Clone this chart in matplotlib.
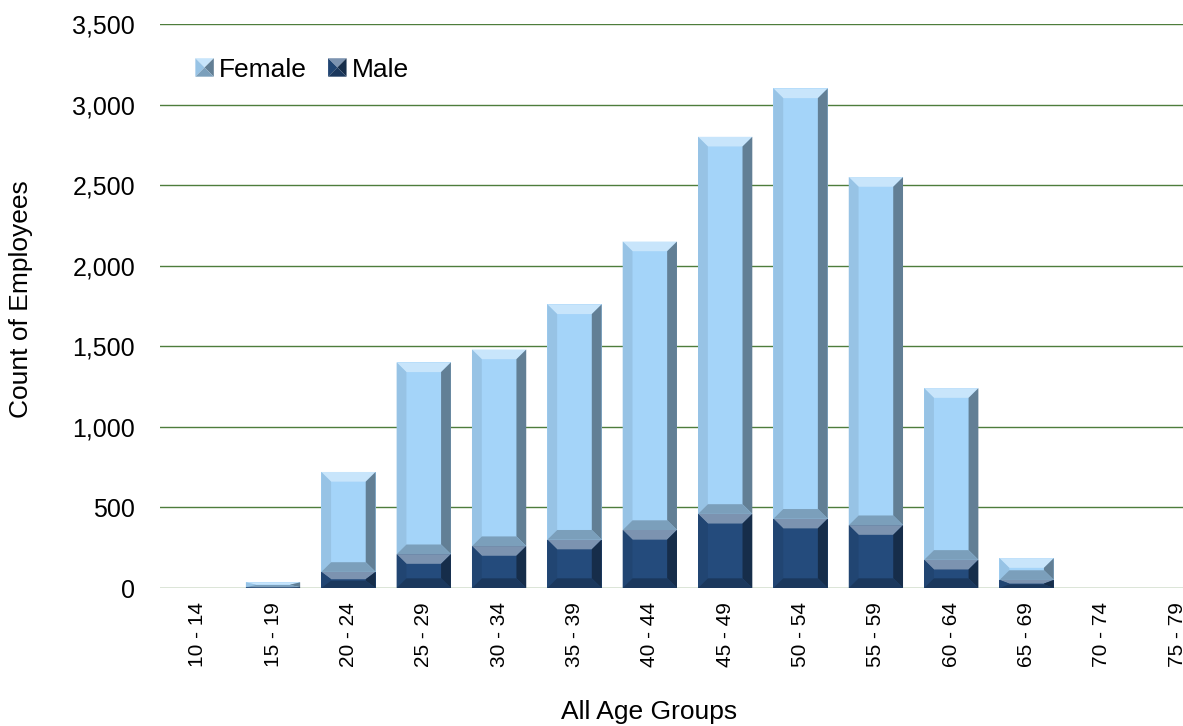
import numpy as np
import matplotlib.pyplot as plt
from matplotlib.patches import Polygon, Patch
from matplotlib.legend_handler import HandlerBase

# age groups and counts
groups = ['10 - 14', '15 - 19', '20 - 24', '25 - 29', '30 - 34', '35 - 39', '40 - 44',
          '45 - 49', '50 - 54', '55 - 59', '60 - 64', '65 - 69', '70 - 74', '75 - 79']
male = [0, 5, 100, 210, 260, 300, 360, 460, 430, 390, 175, 50, 0, 0]
female = [0, 30, 620, 1190, 1220, 1460, 1790, 2340, 2670, 2160, 1065, 135, 0, 0]

FEMALE_C = '#a4d4f9'
MALE_C = '#244b7c'
GRID_C = '#4e7d3c'

plt.rcParams['font.family'] = ['Liberation Sans', 'DejaVu Sans']


def shade(c, f):
    c = np.array(plt.matplotlib.colors.to_rgb(c))
    if f > 1:
        return tuple(c + (1 - c) * (f - 1))
    return tuple(c * f)


# brightness of each bevel face
FACES = [('top', 1.4), ('left', 0.92), ('right', 0.6), ('bottom', 0.75)]


def bevel_polys(x0, x1, y0, y1, bx, by):
    return {
        'top': [(x0, y1), (x1, y1), (x1 - bx, y1 - by), (x0 + bx, y1 - by)],
        'left': [(x0, y0), (x0, y1), (x0 + bx, y1 - by), (x0 + bx, y0 + by)],
        'right': [(x1, y0), (x1, y1), (x1 - bx, y1 - by), (x1 - bx, y0 + by)],
        'bottom': [(x0, y0), (x1, y0), (x1 - bx, y0 + by), (x0 + bx, y0 + by)],
    }


def bevel(ax, x0, x1, y0, y1, color, bx=0.13, by=60):
    # fake the excel "bevel" look with four trapezoids along the bar edges
    h = y1 - y0
    if h <= 0:
        return
    by = min(by, h / 2.2)
    bx = min(bx, (x1 - x0) / 2.2)
    polys = bevel_polys(x0, x1, y0, y1, bx, by)
    for name, f in FACES:
        ax.add_patch(Polygon(polys[name], closed=True, facecolor=shade(color, f),
                             edgecolor='none', zorder=3))


class BevelHandler(HandlerBase):
    def create_artists(self, legend, orig_handle, xdescent, ydescent, width,
                       height, fontsize, trans):
        c = orig_handle.get_facecolor()
        s = min(width, height)
        x0, y0 = -xdescent + (width - s) / 2, -ydescent + (height - s) / 2
        polys = bevel_polys(x0, x0 + s, y0, y0 + s, s / 2, s / 2)
        arts = []
        for name, f in FACES:
            p = Polygon(polys[name], closed=True, facecolor=shade(c, f),
                        edgecolor='none', transform=trans)
            arts.append(p)
        return arts


fig = plt.figure(figsize=(11.83, 7.26), dpi=100)
ax = fig.add_axes([160 / 1183, 138 / 726, 1055 / 1183, 564 / 726])

x = np.arange(len(groups))
w = 0.72
m = np.array(male)
f = np.array(female)
ax.bar(x, m, width=w, color=MALE_C, zorder=2)
ax.bar(x, f, width=w, bottom=m, color=FEMALE_C, zorder=2)
for xi, mi, fi in zip(x, m, f):
    bevel(ax, xi - w / 2, xi + w / 2, 0, mi, MALE_C)
    bevel(ax, xi - w / 2, xi + w / 2, mi, mi + fi, FEMALE_C)

ax.set_xlim(-0.5, len(groups) - 0.5)
ax.set_ylim(0, 3500)
ax.set_yticks(np.arange(0, 3501, 500))
ax.set_yticklabels([f'{v:,}' for v in range(0, 3501, 500)], fontsize=18)
ax.set_xticks(x)
ax.set_xticklabels(groups, rotation=90, fontsize=15)
ax.tick_params(length=0)
ax.tick_params(axis='y', pad=18)
ax.tick_params(axis='x', pad=10)
ax.yaxis.grid(True, color=GRID_C, lw=1)
ax.set_axisbelow(True)
for s in ax.spines.values():
    s.set_visible(False)

ax.set_ylabel('Count of Employees', fontsize=19)
ax.yaxis.set_label_coords(-0.12, 0.512)
ax.set_xlabel('All Age Groups', fontsize=19)
ax.xaxis.set_label_coords(0.4635, -0.198)

handles = [Patch(facecolor=FEMALE_C, label='Female'),
           Patch(facecolor=MALE_C, label='Male')]
ax.legend(handles=handles, loc='center left', bbox_to_anchor=(0.021, 0.919), ncol=2,
          frameon=False, fontsize=19, handlelength=0.7, handleheight=0.7,
          handletextpad=0.2, columnspacing=0.8, borderpad=0,
          handler_map={Patch: BevelHandler()})

fig.savefig('out.png', dpi=100)
